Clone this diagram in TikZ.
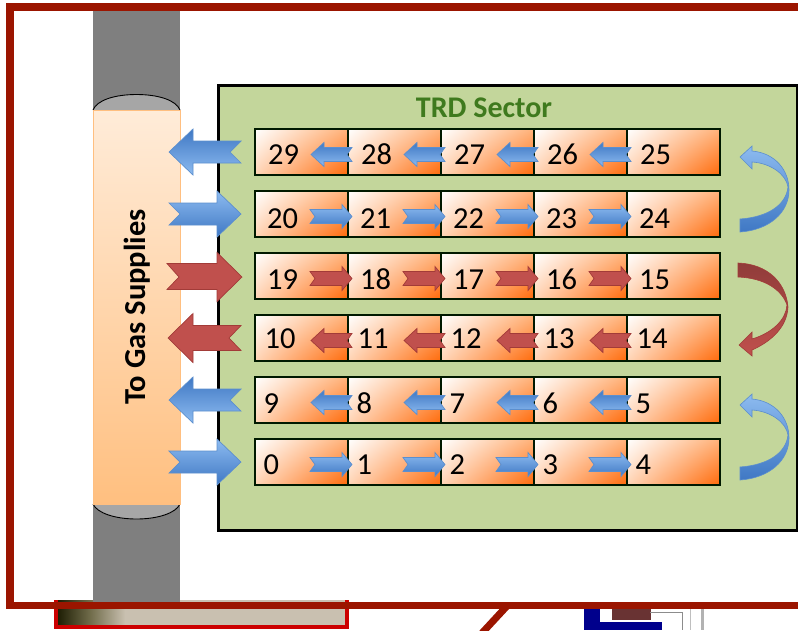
\documentclass[tikz,border=0pt]{standalone}
\usepackage{fontspec}
\usetikzlibrary{shadings}
\setmainfont[Numbers=Lining]{Carlito}
\definecolor{frameRed}{HTML}{9B1500}
\definecolor{sectorGreen}{HTML}{C3D69B}
\definecolor{titleGreen}{HTML}{3F7A1E}
\definecolor{orangeDeep}{HTML}{FF6A0A}
\definecolor{orangeMid}{HTML}{FFB27A}
\definecolor{blueDark}{HTML}{3F78C4}
\definecolor{blueLight}{HTML}{8DBBF0}
\definecolor{blueEdge}{HTML}{5C8FCE}
\definecolor{redFill}{HTML}{C0504D}
\definecolor{redEdge}{HTML}{A23B38}
\definecolor{pipeGray}{HTML}{7F7F7F}
\definecolor{capGray}{HTML}{A6A6A6}
\definecolor{barTan}{HTML}{C9C0B0}
\tikzset{
  x=1pt,y=-1pt,
  cell/.style={draw=black!75!green!40!black,line width=1.3pt,minimum width=93pt,minimum height=46pt,inner sep=0pt,outer sep=0pt,
    shade,upper left=white,upper right=orangeMid,lower left=orangeMid!55!white,lower right=orangeDeep},
  num/.style={font=\fontsize{30.5}{30.5}\selectfont,text=black,inner sep=0pt,anchor=base west},
  bluedown/.style={draw=blueEdge,line width=.7pt,top color=blueDark,bottom color=blueLight},
  blueup/.style={draw=blueEdge,line width=.7pt,top color=blueLight,bottom color=blueDark},
  redflat/.style={draw=redEdge,line width=.7pt,fill=redFill},
}
\newcommand{\smallL}[2]{\path[#2,shift={(#1)}] (-37,2.5)--(-24,-9.5)--(-24,-4.5)--(4,-4.5)--(-1,2.5)--(4,9.5)--(-24,9.5)--(-24,14.5)--cycle;}
\newcommand{\smallR}[2]{\path[#2,shift={(#1)}] (-38,-4.5)--(-33,2.5)--(-38,9.5)--(-6,9.5)--(-6,14.5)--(4,2.5)--(-6,-9.5)--(-6,-4.5)--cycle;}
\newcommand{\bigL}[2]{\path[#2,shift={(#1)}] (-86,0)--(-62,-23)--(-62,-11)--(-14,-11)--(-25,0)--(-14,11)--(-62,11)--(-62,23)--cycle;}
\newcommand{\bigR}[2]{\path[#2,shift={(#1)}] (-86,-11)--(-75,0)--(-86,11)--(-38,11)--(-38,23)--(-14,0)--(-38,-23)--(-38,-11)--cycle;}
\newcommand{\bigLred}[1]{\path[redflat,shift={(#1)}] (-87,0)--(-62,-24.5)--(-62,-12.5)--(-14,-12.5)--(-26,0)--(-14,12.5)--(-62,12.5)--(-62,24.5)--cycle;}
\newcommand{\bigRred}[1]{\path[redflat,shift={(#1)}] (-88,-12.5)--(-76,1)--(-88,13.5)--(-38,13.5)--(-38,25.5)--(-13,1)--(-38,-23.5)--(-38,-12.5)--cycle;}
\newcommand{\cellrow}[8]{%
  \node[cell] (c#2) at (301.5,#1) {};
  \node[cell] (c#3) at (394.5,#1) {};
  \node[cell] (c#4) at (487.5,#1) {};
  \node[cell] (c#5) at (580.5,#1) {};
  \node[cell] (c#6) at (673.5,#1) {};
  \node[num] (n#2) at ([xshift=#7pt,yshift=-#8pt]c#2.west) {#2};
  \node[num] (n#3) at ([xshift=#7pt,yshift=-#8pt]c#3.west) {#3};
  \node[num] (n#4) at ([xshift=#7pt,yshift=-#8pt]c#4.west) {#4};
  \node[num] (n#5) at ([xshift=#7pt,yshift=-#8pt]c#5.west) {#5};
  \node[num] (n#6) at ([xshift=#7pt,yshift=-#8pt]c#6.west) {#6};
}
\newcommand{\rowL}[6]{%
  \smallL{c#2.west}{#1}\smallL{c#3.west}{#1}\smallL{c#4.west}{#1}\smallL{c#5.west}{#1}}
\newcommand{\rowR}[6]{%
  \smallR{c#3.west}{#1}\smallR{c#4.west}{#1}\smallR{c#5.west}{#1}\smallR{c#6.west}{#1}}
\begin{document}
\begin{tikzpicture}
\useasboundingbox (0,0) rectangle (798,630);
\fill[white] (0,0) rectangle (798,630);
% items below the frame
\fill[barTan] (56,600) rectangle (347,627);
\path[left color=black!80!olive,right color=barTan] (56,600) rectangle (125,627);
\draw[red!80!black,line width=4pt] (55.5,600) -- (55.5,627) -- (347,627) -- (347,600);
\draw[frameRed,line width=7pt] (507,606) -- (482,633);
\fill[blue!55!black] (584,606) rectangle (600,630);
\fill[blue!55!black] (584,622) rectangle (662,630);
\fill[black!65!red!60!gray] (612,606) rectangle (651,620);
\draw[black!45,line width=1pt] (650,612.5) -- (682,612.5) -- (682,630);
\draw[black!25,line width=1pt] (690,606) -- (690,630);
\draw[black!30,line width=3pt] (702,606) -- (702,630);
% pipe
\fill[pipeGray] (93,5) rectangle (180,606);
\filldraw[fill=capGray,draw=black,line width=.9pt] (93,110) .. controls (97,100) and (115,94.5) .. (136.5,94.5) .. controls (158,94.5) and (176,100) .. (180,110);
\filldraw[fill=capGray,draw=black,line width=.9pt] (93,504) .. controls (97,513) and (115,519) .. (136.5,519) .. controls (158,519) and (176,513) .. (180,504);
\path[draw=orange!50,line width=.8pt,top color=orange!15!white,bottom color=orange!50!white] (93,110) rectangle (180,504);
\node[font=\bfseries\fontsize{30.5}{30.5}\selectfont,rotate=90,inner sep=0pt] (gas) at (137,307) {To Gas Supplies};
% sector
\node[draw=black,line width=3pt,fill=sectorGreen,minimum width=578.5pt,minimum height=445pt,inner sep=0pt] (sector) at (507.75,307.5) {};
\node[font=\bfseries\fontsize{30}{30}\selectfont,text=titleGreen,inner sep=0pt] (title) at (484,108) {TRD Sector};
% cells
\cellrow{152}{29}{28}{27}{26}{25}{13}{12.5}
\cellrow{214}{20}{21}{22}{23}{24}{12}{14}
\cellrow{276}{19}{18}{17}{16}{15}{12}{13}
\cellrow{338}{10}{11}{12}{13}{14}{9.5}{10.5}
\cellrow{400}{9}{8}{7}{6}{5}{8.5}{13}
\cellrow{462}{0}{1}{2}{3}{4}{8.5}{12}
% small arrows between the cells
\rowL{bluedown}{28}{27}{26}{25}{}
\rowR{blueup}{20}{21}{22}{23}{24}
\rowR{redflat}{19}{18}{17}{16}{15}
\rowL{redflat}{11}{12}{13}{14}{}
\rowL{bluedown}{8}{7}{6}{5}{}
\rowR{blueup}{0}{1}{2}{3}{4}
% large arrows
\bigL{c29.west}{bluedown}
\bigR{c20.west}{blueup}
\bigRred{c19.west}
\bigLred{c10.west}
\bigL{c9.west}{bluedown}
\bigR{c0.west}{blueup}
% curved arrows
\foreach \dy in {0,248}{
\path[draw=blueEdge,line width=.6pt,top color=blueLight,bottom color=blueDark,shift={(0,\dy)}]
  (740,219) .. controls (768,217) and (786,205) .. (788,187)
  .. controls (786,174) and (770,163) .. (752,162)
  -- (752,169) -- (740,157) -- (752,146) -- (752,151)
  .. controls (775,153) and (789,170) .. (789,190)
  .. controls (789,212) and (770,230) .. (740,232) -- cycle;
}
\path[draw=redEdge,line width=.6pt,top color=redFill!75!black,bottom color=redFill]
  (738,263) .. controls (768,264) and (786,283) .. (788,307)
  .. controls (787,328) and (770,342) .. (752,350)
  -- (752,356) -- (739,345) -- (752,332) -- (752,339)
  .. controls (772,333) and (786,320) .. (787,305)
  .. controls (782,290) and (765,278) .. (738,277) -- cycle;
% frame
\draw[frameRed,line width=7.6pt,miter limit=10] (800,7) -- (10,7) -- (10,605.5) -- (800,605.5);
\end{tikzpicture}
\end{document}
